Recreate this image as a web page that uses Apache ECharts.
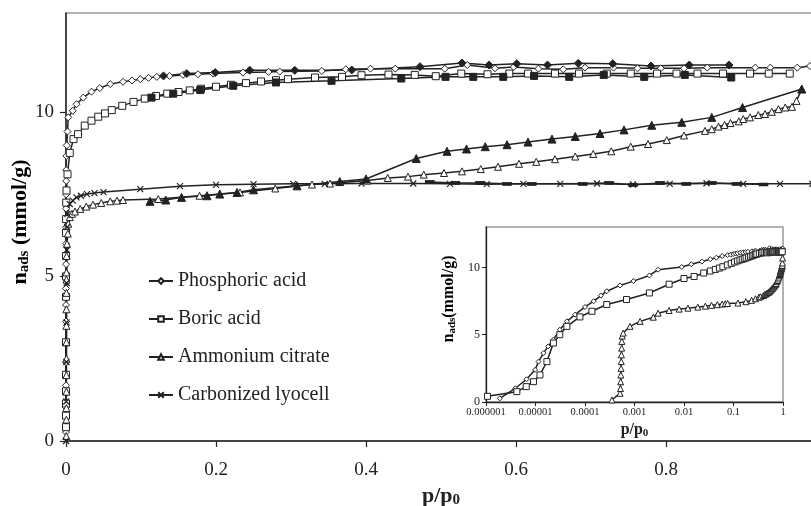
<!DOCTYPE html>
<html>
<head>
<meta charset="utf-8">
<script src="https://cdn.jsdelivr.net/npm/echarts@6/dist/echarts.min.js"></script>
<style>
  html, body { margin: 0; padding: 0; background: #fff; }
  #chart { width: 811px; height: 506px; }
</style>
</head>
<body>
<div id="chart"></div>
<script>
// low pressure points [p/p0, n_ads]
var phosLow = [[1.9e-6, 0.27], [3.9e-6, 1.02], [6.6e-6, 1.69], [9.8e-6, 2.39], [1.15e-5, 3.0], [1.45e-5, 3.63],
  [1.8e-5, 4.13], [2.3e-5, 4.63], [3.1e-5, 5.37], [4.3e-5, 5.99], [6.3e-5, 6.49], [1e-4, 7.06], [1.5e-4, 7.49],
  [2.1e-4, 7.9], [2.75e-4, 8.23], [5.1e-4, 8.66], [9.5e-4, 8.98], [2e-3, 9.4]];
var boricLow = [[1.07e-6, 0.42], [4.2e-6, 0.77], [6.5e-6, 1.14], [9.1e-6, 1.51], [1.23e-5, 2.01], [1.7e-5, 3.0],
  [2.3e-5, 4.38], [3.1e-5, 5.0], [4.3e-5, 5.62], [7.9e-5, 6.32], [1.38e-4, 6.74], [2.75e-4, 7.24], [6.9e-4, 7.61],
  [2e-3, 8.1]];
var ammLow = [[3.5e-4, 0.15], [5.1e-4, 0.65], [5.2e-4, 1.0], [5.25e-4, 1.5], [5.3e-4, 2.0], [5.35e-4, 2.5],
  [5.4e-4, 3.0], [5.45e-4, 3.5], [5.5e-4, 4.0], [5.55e-4, 4.5], [5.65e-4, 4.9], [5.9e-4, 5.12], [8.1e-4, 5.62],
  [1.3e-3, 5.99], [2.4e-3, 6.3]];
var lyoLow = [[1e-4, 0], [3e-4, 1.2], [5e-4, 2.4], [7e-4, 3.6], [9e-4, 4.8], [1.2e-3, 5.8], [1.6e-3, 6.5], [2e-3, 6.9]];

// adsorption branches (open symbols)
var phosAds = [[0.003, 9.83], [0.009, 10.03], [0.014, 10.23], [0.023, 10.43], [0.034, 10.61], [0.045, 10.72],
  [0.059, 10.84], [0.076, 10.91], [0.088, 10.95], [0.099, 10.99], [0.11, 11.03], [0.121, 11.06], [0.138, 11.09],
  [0.156, 11.12], [0.176, 11.14], [0.196, 11.16], [0.236, 11.19], [0.27, 11.21], [0.285, 11.22], [0.341, 11.24],
  [0.373, 11.29], [0.406, 11.31], [0.439, 11.31], [0.505, 11.31], [0.535, 11.42], [0.572, 11.32], [0.597, 11.36],
  [0.63, 11.31], [0.663, 11.29], [0.692, 11.34], [0.73, 11.34], [0.762, 11.32], [0.793, 11.32], [0.824, 11.32],
  [0.855, 11.34], [0.919, 11.34], [0.939, 11.34], [0.975, 11.34], [0.992, 11.39]];
var boricAds = [[0.005, 8.75], [0.01, 9.17], [0.016, 9.32], [0.025, 9.58], [0.034, 9.73], [0.043, 9.85],
  [0.052, 9.95], [0.061, 10.05], [0.075, 10.18], [0.09, 10.3], [0.105, 10.4], [0.12, 10.48], [0.135, 10.55],
  [0.15, 10.6], [0.165, 10.65], [0.18, 10.7], [0.2, 10.76], [0.22, 10.82], [0.24, 10.87], [0.26, 10.92],
  [0.28, 10.96], [0.296, 10.99], [0.332, 11.04], [0.368, 11.06], [0.394, 11.11], [0.43, 11.13], [0.465, 11.12],
  [0.493, 11.08], [0.527, 11.16], [0.562, 11.14], [0.591, 11.16], [0.616, 11.16], [0.652, 11.16], [0.684, 11.16],
  [0.721, 11.16], [0.753, 11.16], [0.788, 11.16], [0.814, 11.16], [0.842, 11.16], [0.876, 11.16], [0.912, 11.16],
  [0.937, 11.16], [0.965, 11.16]];
var ammAds = [[0.003, 6.6], [0.005, 6.8], [0.008, 6.9], [0.012, 6.97], [0.019, 7.05], [0.027, 7.12], [0.036, 7.18],
  [0.047, 7.23], [0.059, 7.28], [0.068, 7.3], [0.076, 7.32], [0.123, 7.35], [0.178, 7.45], [0.232, 7.55],
  [0.279, 7.67], [0.328, 7.79], [0.352, 7.82], [0.402, 7.91], [0.429, 7.99], [0.456, 8.03], [0.477, 8.09],
  [0.504, 8.14], [0.528, 8.19], [0.553, 8.26], [0.576, 8.33], [0.604, 8.42], [0.627, 8.48], [0.652, 8.56],
  [0.679, 8.64], [0.703, 8.72], [0.727, 8.8], [0.753, 8.94], [0.776, 9.02], [0.801, 9.14], [0.824, 9.28],
  [0.852, 9.42], [0.861, 9.47], [0.87, 9.55], [0.878, 9.6], [0.886, 9.66], [0.897, 9.71], [0.903, 9.78],
  [0.912, 9.83], [0.923, 9.9], [0.932, 9.93], [0.941, 10.0], [0.95, 10.08], [0.959, 10.13], [0.968, 10.15],
  [0.974, 10.33], [0.981, 10.69]];
var lyoAds = [[0.005, 7.2], [0.009, 7.3], [0.014, 7.4], [0.02, 7.45], [0.028, 7.5], [0.038, 7.53], [0.05, 7.56],
  [0.099, 7.65], [0.152, 7.74], [0.2, 7.78], [0.25, 7.8], [0.303, 7.81], [0.345, 7.81], [0.394, 7.82],
  [0.463, 7.82], [0.512, 7.81], [0.561, 7.8], [0.61, 7.81], [0.659, 7.81], [0.708, 7.82], [0.756, 7.79],
  [0.805, 7.81], [0.854, 7.83], [0.903, 7.81], [0.952, 7.81], [0.995, 7.81]];

// desorption branches (filled symbols)
var phosDes = [[0.884, 11.42], [0.831, 11.42], [0.78, 11.39], [0.729, 11.46], [0.683, 11.47], [0.642, 11.42],
  [0.601, 11.46], [0.564, 11.42], [0.528, 11.48], [0.472, 11.37], [0.381, 11.27], [0.305, 11.26], [0.245, 11.26],
  [0.199, 11.19], [0.161, 11.16], [0.13, 11.09]];
var boricDes = [[0.887, 11.04], [0.825, 11.12], [0.771, 11.06], [0.717, 11.12], [0.671, 11.06], [0.624, 11.09],
  [0.583, 11.06], [0.543, 11.06], [0.506, 11.06], [0.447, 11.01], [0.354, 10.94], [0.28, 10.89], [0.223, 10.79],
  [0.179, 10.66], [0.143, 10.55], [0.114, 10.43]];
var ammDes = [[0.981, 10.69], [0.902, 10.13], [0.861, 9.83], [0.821, 9.68], [0.781, 9.59], [0.744, 9.45],
  [0.712, 9.34], [0.679, 9.25], [0.648, 9.17], [0.616, 9.08], [0.588, 9.0], [0.559, 8.94], [0.534, 8.87],
  [0.508, 8.8], [0.467, 8.58], [0.4, 7.96], [0.365, 7.88], [0.308, 7.75], [0.25, 7.63], [0.228, 7.55],
  [0.205, 7.5], [0.188, 7.45], [0.154, 7.4], [0.133, 7.32], [0.112, 7.28]];
var lyoDes = [[0.93, 7.79], [0.894, 7.81], [0.861, 7.84], [0.827, 7.81], [0.792, 7.84], [0.756, 7.78],
  [0.724, 7.84], [0.689, 7.81], [0.621, 7.81], [0.588, 7.81], [0.552, 7.84], [0.519, 7.84], [0.485, 7.87]];

var names = ["Phosphoric acid", "Boric acid", "Ammonium citrate", "Carbonized lyocell"];
var mainXTicks = [0, 0.2, 0.4, 0.6, 0.8];
var yTicks = [0, 5, 10];
var insetXTicks = ["0.000001", "0.00001", "0.0001", "0.001", "0.01", "0.1", "1"];

var ink = "#222";
var serif = "Liberation Serif";
var crossPath = "path://M0,0L10,10M10,0L0,10";
var dashPath = "path://M0,0L10,0L10,4L0,4Z";

function mkSeries(name, data, symbol, size, filled, xi) {
  return {
    name: name,
    type: "line",
    xAxisIndex: xi,
    yAxisIndex: xi,
    data: data,
    symbol: symbol,
    symbolSize: size,
    showAllSymbol: true,
    animation: false,
    lineStyle: { color: ink, width: 1.5 },
    itemStyle: { color: filled ? ink : "#fff", borderColor: ink, borderWidth: 1 },
    emphasis: { disabled: true },
  };
}

var chartDom = document.getElementById("chart");
var myChart = echarts.init(chartDom);
var option;

var series = [
  mkSeries(names[0], phosLow.concat(phosAds), "diamond", 7, false, 0),
  mkSeries(names[1], boricLow.concat(boricAds), "rect", 7, false, 0),
  mkSeries(names[2], ammLow.concat(ammAds), "triangle", 7, false, 0),
  mkSeries(names[3], lyoLow.concat(lyoAds), crossPath, 6, false, 0),
  mkSeries("phos des", phosDes, "diamond", 8, true, 0),
  mkSeries("boric des", boricDes, "rect", 7, true, 0),
  mkSeries("amm des", ammDes, "triangle", 8, true, 0),
  mkSeries("lyo des", lyoDes, dashPath, [8, 3], true, 0),
  // inset (log scale), adsorption only
  mkSeries("phos log", phosLow.concat(phosAds), "diamond", 5, false, 1),
  mkSeries("boric log", boricLow.concat(boricAds), "rect", 6, false, 1),
  mkSeries("amm log", ammLow.concat(ammAds), "triangle", 6, false, 1),
];
series[3].itemStyle.borderWidth = 1.2;

var subRich = {
  b: { fontFamily: serif, fontWeight: "bold", fontSize: 22, color: ink },
  s: { fontFamily: serif, fontWeight: "bold", fontSize: 15, color: ink, padding: [9, 0, 0, 0] },
  bi: { fontFamily: serif, fontWeight: "bold", fontSize: 16, color: ink },
  si: { fontFamily: serif, fontWeight: "bold", fontSize: 11, color: ink, padding: [7, 0, 0, 0] },
};

option = {
  animation: false,
  textStyle: { fontFamily: serif, color: ink },
  legend: {
    data: names,
    orient: "vertical",
    left: 148,
    top: 271,
    padding: 0,
    itemWidth: 24,
    itemHeight: 7,
    itemGap: 18,
    textStyle: { fontFamily: serif, fontSize: 20, color: ink },
    selectedMode: false,
  },
  grid: [
    { left: 66, right: -5, top: 13, bottom: 65, show: true, borderColor: "#999", borderWidth: 1.5, outerBoundsMode: "none", containLabel: false },
    { left: 486, right: 28, top: 227, bottom: 104, show: true, borderColor: "#999", borderWidth: 1.5, backgroundColor: "#fff", outerBoundsMode: "none", containLabel: false },
  ],
  xAxis: [
    {
      type: "value", gridIndex: 0, min: 0, max: 1, interval: 0.2,
      name: "{b|p/p}{s|0}", nameLocation: "middle", nameGap: 42,
      nameTextStyle: { rich: subRich },
      axisLine: { lineStyle: { color: ink, width: 1.5 } },
      axisTick: { length: 6, lineStyle: { color: ink, width: 1.2 }, customValues: mainXTicks },
      axisLabel: { fontSize: 19, color: ink, margin: 20, customValues: mainXTicks, formatter: function (v) { return String(+v.toFixed(1)); } },
      splitLine: { show: false },
    },
    {
      type: "log", gridIndex: 1, min: 0.000001, max: 1, logBase: 10,
      name: "{bi|p/p}{si|0}", nameLocation: "middle", nameGap: 19,
      nameTextStyle: { rich: subRich },
      axisLine: { lineStyle: { color: ink, width: 1.3 } },
      axisTick: { length: 4, lineStyle: { color: ink } },
      axisLabel: { fontSize: 10.5, color: ink, margin: 5, formatter: function (v) { return insetXTicks[Math.round(Math.log10(v)) + 6]; } },
      splitLine: { show: false },
      minorTick: { show: false },
    },
  ],
  yAxis: [
    {
      type: "value", gridIndex: 0, min: 0, max: 13, interval: 5,
      axisLine: { show: true, lineStyle: { color: ink, width: 1.5 } },
      axisTick: { show: true, length: 6, lineStyle: { color: ink, width: 1.2 }, customValues: yTicks },
      axisLabel: { fontSize: 19, color: ink, margin: 12, customValues: yTicks },
      splitLine: { show: false },
    },
    {
      type: "value", gridIndex: 1, min: 0, max: 13, interval: 5,
      axisLine: { show: true, lineStyle: { color: ink, width: 1.3 } },
      axisTick: { show: true, length: 4, lineStyle: { color: ink }, customValues: yTicks },
      axisLabel: { fontSize: 12, color: ink, margin: 6, customValues: yTicks },
      splitLine: { show: false },
    },
  ],
  graphic: [
    {
      type: "text", x: 20, y: 222, rotation: Math.PI / 2,
      style: { text: "{b|n}{s|ads}{b| (mmol/g)}", rich: subRich, align: "center", verticalAlign: "middle" },
    },
    {
      type: "text", x: 449, y: 299, rotation: Math.PI / 2,
      style: { text: "{bi|n}{si|ads}{bi|(mmol/g)}", rich: subRich, align: "center", verticalAlign: "middle" },
    },
  ],
  series: series,
};

option && myChart.setOption(option);
</script>
</body>
</html>
